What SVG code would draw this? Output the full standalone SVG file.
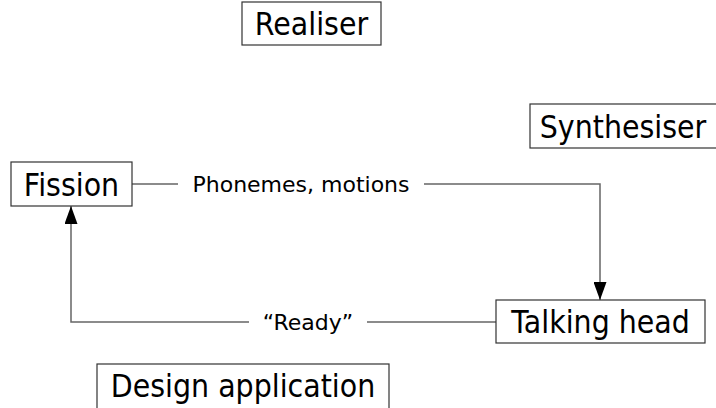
<svg xmlns="http://www.w3.org/2000/svg" width="716" height="408" viewBox="0 0 716 408">
<style>
.box{fill:#fff;stroke:#333;stroke-width:1.2}
.nt{font-family:"DejaVu Sans",sans-serif;font-size:28.5px;fill:#000;text-anchor:middle}
.lt{font-family:"DejaVu Sans",sans-serif;font-size:22px;fill:#000;text-anchor:middle}
.edge{fill:none;stroke:#666;stroke-width:1.5}
</style>
<defs>
<marker id="ah" markerWidth="18" markerHeight="13" refX="18" refY="6.5" orient="auto" markerUnits="userSpaceOnUse" viewBox="0 0 18 13">
<path d="M0,0 L18,6.5 L0,13 Z" fill="#000"/>
</marker>
</defs>
<rect width="716" height="408" fill="#fff"/>
<g id="connectors">
<path class="edge" d="M132,184 H178 M424,184 H600 V300" marker-end="url(#ah)"/>
<path class="edge" d="M496,322 H367 M249,322 H71 V206" marker-end="url(#ah)"/>
<text class="lt" x="301" y="192">Phonemes, motions</text>
<text class="lt" x="308" y="330">“Ready”</text>
</g>
<g id="realiser"><rect class="box" x="242" y="2" width="139" height="43"/><text class="nt" transform="translate(311.5,35) scale(1,1.1)">Realiser</text></g>
<g id="synthesiser"><rect class="box" x="530" y="104" width="190" height="44"/><text class="nt" transform="translate(623,137.5) scale(1,1.1)">Synthesiser</text></g>
<g id="fission"><rect class="box" x="11" y="162" width="121" height="44"/><text class="nt" transform="translate(71.5,195.5) scale(1,1.1)">Fission</text></g>
<g id="talking-head"><rect class="box" x="496" y="300" width="209" height="43"/><text class="nt" transform="translate(600.5,332.5) scale(1,1.1)">Talking head</text></g>
<g id="design-application"><rect class="box" x="97" y="364" width="292" height="50"/><text class="nt" transform="translate(243,397) scale(1,1.1)">Design application</text></g>
</svg>
